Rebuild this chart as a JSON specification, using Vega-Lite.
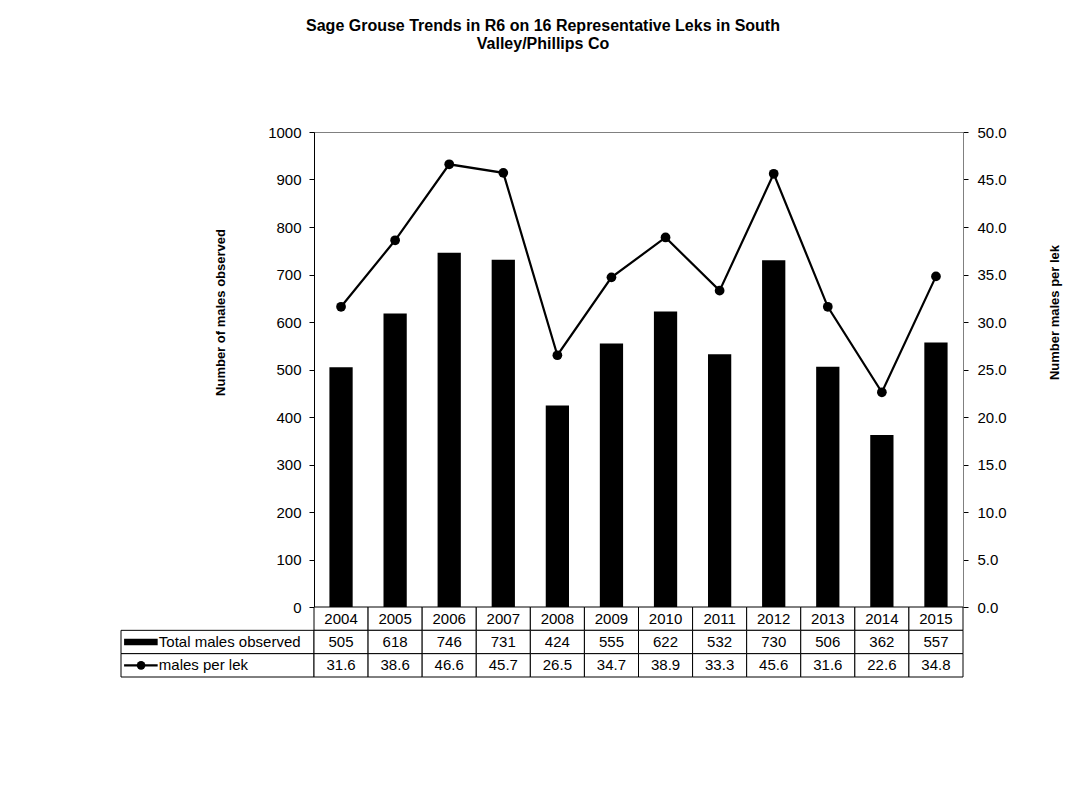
{
  "$schema": "https://vega.github.io/schema/vega-lite/v6.json",
  "autosize": {"type": "pad"},
  "padding": {"left": 120, "top": 17, "right": 20, "bottom": 108},
  "background": "white",
  "title": {
    "text": ["Sage Grouse Trends in R6 on 16 Representative Leks in South", "Valley/Phillips Co"],
    "font": "Liberation Sans",
    "fontSize": 16,
    "fontWeight": "bold",
    "color": "#000",
    "anchor": "middle",
    "dx": -48,
    "offset": 73,
    "lineHeight": 18
  },
  "data": {
    "values": [
      {"year": "2004", "total": 505, "perlek": 31.6},
      {"year": "2005", "total": 618, "perlek": 38.6},
      {"year": "2006", "total": 746, "perlek": 46.6},
      {"year": "2007", "total": 731, "perlek": 45.7},
      {"year": "2008", "total": 424, "perlek": 26.5},
      {"year": "2009", "total": 555, "perlek": 34.7},
      {"year": "2010", "total": 622, "perlek": 38.9},
      {"year": "2011", "total": 532, "perlek": 33.3},
      {"year": "2012", "total": 730, "perlek": 45.6},
      {"year": "2013", "total": 506, "perlek": 31.6},
      {"year": "2014", "total": 362, "perlek": 22.6},
      {"year": "2015", "total": 557, "perlek": 34.8}
    ]
  },
  "columns": 2,
  "spacing": 0,
  "bounds": "flush",
  "align": "each",
  "resolve": {"scale": {"x": "independent", "y": "independent"}},
  "concat": [
    {
      "width": 193,
      "height": 475,
      "data": {"values": []},
      "mark": "point",
      "encoding": {}
    },
    {
      "width": 649,
      "height": 475,
      "view": {"stroke": "#808080"},
      "encoding": {
        "x": {
          "field": "year",
          "type": "ordinal",
          "axis": null,
          "scale": {"paddingInner": 0.57, "paddingOuter": 0.285}
        }
      },
      "layer": [
        {
          "mark": {"type": "bar", "color": "#000"},
          "encoding": {
            "y": {
              "field": "total",
              "type": "quantitative",
              "scale": {"domain": [0, 1000], "nice": false},
              "axis": {
                "orient": "left",
                "values": [0, 100, 200, 300, 400, 500, 600, 700, 800, 900, 1000],
                "format": "d",
                "title": "Number of males observed",
                "titleFontSize": 13,
                "titleFontWeight": "bold",
                "titleAngle": -90,
                "titleBaseline": "middle",
                "titleAlign": "center",
                "titleX": -94,
                "titleY": 180,
                "tickSize": 5,
                "labelPadding": 8,
                "domainColor": "#000"
              }
            }
          }
        },
        {
          "encoding": {
            "y": {
              "field": "perlek",
              "type": "quantitative",
              "scale": {"domain": [0, 50], "nice": false},
              "axis": {
                "orient": "right",
                "values": [0, 5, 10, 15, 20, 25, 30, 35, 40, 45, 50],
                "format": ".1f",
                "title": "Number males per lek",
                "titleFontSize": 13,
                "titleFontWeight": "bold",
                "titleAngle": -90,
                "titleBaseline": "middle",
                "titleAlign": "center",
                "titleX": 91,
                "titleY": 180,
                "tickSize": 5,
                "labelPadding": 9,
                "domainColor": "#808080"
              }
            }
          },
          "layer": [
            {"mark": {"type": "line", "color": "#000", "strokeWidth": 2.2}},
            {"mark": {"type": "point", "filled": true, "color": "#000", "size": 95, "opacity": 1}}
          ]
        }
      ],
      "resolve": {"scale": {"y": "independent"}}
    },
    {
      "width": 193,
      "height": 70,
      "data": {
        "values": [
          {"row": "Total males observed", "kind": "bar"},
          {"row": "males per lek", "kind": "line"}
        ]
      },
      "encoding": {
        "y": {
          "field": "row",
          "type": "nominal",
          "axis": null,
          "sort": null,
          "scale": {"domain": ["hdr", "Total males observed", "males per lek"], "paddingInner": 0, "paddingOuter": 0}
        }
      },
      "layer": [
        {
          "mark": {"type": "rect", "fill": "white", "stroke": "#000", "strokeWidth": 1},
          "encoding": {
            "x": {"datum": 0, "type": "quantitative", "axis": null, "scale": {"domain": [0, 1], "nice": false, "zero": false}},
            "x2": {"datum": 1}
          }
        },
        {
          "transform": [{"filter": "datum.kind == 'bar'"}],
          "mark": {"type": "bar", "color": "#000", "height": {"band": 0.28}},
          "encoding": {
            "x": {"datum": 0.016, "type": "quantitative"},
            "x2": {"datum": 0.19}
          }
        },
        {
          "transform": [{"filter": "datum.kind == 'line'"}],
          "mark": {"type": "rule", "color": "#000", "strokeWidth": 2.2},
          "encoding": {
            "x": {"datum": 0.016, "type": "quantitative"},
            "x2": {"datum": 0.19}
          }
        },
        {
          "transform": [{"filter": "datum.kind == 'line'"}],
          "mark": {"type": "point", "filled": true, "color": "#000", "size": 75, "opacity": 1},
          "encoding": {
            "x": {"datum": 0.104, "type": "quantitative"}
          }
        },
        {
          "mark": {"type": "text", "align": "left", "baseline": "middle", "font": "Liberation Sans", "fontSize": 15, "color": "#000"},
          "encoding": {
            "x": {"datum": 0.196, "type": "quantitative"},
            "text": {"field": "row"}
          }
        }
      ]
    },
    {
      "width": 649,
      "height": 70,
      "encoding": {
        "x": {
          "field": "year",
          "type": "ordinal",
          "axis": null,
          "scale": {"paddingInner": 0, "paddingOuter": 0}
        }
      },
      "layer": [
        {
          "mark": {"type": "rect", "fill": "white", "stroke": "#000", "strokeWidth": 1},
          "encoding": {
            "y": {"datum": "Year", "type": "nominal", "axis": null, "scale": {"domain": ["Year", "Total", "Per"], "paddingInner": 0, "paddingOuter": 0}}
          }
        },
        {
          "mark": {"type": "rect", "fill": "white", "stroke": "#000", "strokeWidth": 1},
          "encoding": {"y": {"datum": "Total", "type": "nominal"}}
        },
        {
          "mark": {"type": "rect", "fill": "white", "stroke": "#000", "strokeWidth": 1},
          "encoding": {"y": {"datum": "Per", "type": "nominal"}}
        },
        {
          "mark": {"type": "text", "baseline": "middle", "font": "Liberation Sans", "fontSize": 15, "color": "#000"},
          "encoding": {"y": {"datum": "Year", "type": "nominal"}, "text": {"field": "year"}}
        },
        {
          "mark": {"type": "text", "baseline": "middle", "font": "Liberation Sans", "fontSize": 15, "color": "#000"},
          "encoding": {"y": {"datum": "Total", "type": "nominal"}, "text": {"field": "total", "type": "quantitative", "format": "d"}}
        },
        {
          "mark": {"type": "text", "baseline": "middle", "font": "Liberation Sans", "fontSize": 15, "color": "#000"},
          "encoding": {"y": {"datum": "Per", "type": "nominal"}, "text": {"field": "perlek", "type": "quantitative", "format": ".1f"}}
        }
      ]
    }
  ],
  "config": {
    "view": {"stroke": null},
    "font": "Liberation Sans",
    "axis": {
      "labelFont": "Liberation Sans",
      "titleFont": "Liberation Sans",
      "labelFontSize": 15,
      "labelColor": "#000",
      "titleColor": "#000",
      "tickColor": "#000",
      "domainColor": "#000",
      "grid": false
    }
  }
}
